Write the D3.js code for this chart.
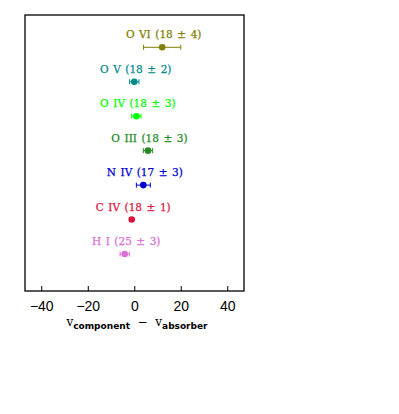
<!DOCTYPE html>
<html>
<head>
<meta charset="utf-8">
<script src="https://cdn.jsdelivr.net/npm/d3@7.9.0/dist/d3.min.js"></script>
<style>
  body { margin: 0; background: #fff; }
  svg { display: block; }
</style>
</head>
<body>
<div id="chart"></div>
<script>
// species, top to bottom
const ions = ['O VI', 'O V', 'O IV', 'O III', 'N IV', 'C IV', 'H I'];
const dv = [12, 0, 0.9, 5.9, 3.9, -1.1, -4.1];        // v_component - v_absorber
const dvErr = [8, 2, 2, 2, 3, 0.5, 2];
const logN = ['18 ± 4', '18 ± 2', '18 ± 3', '18 ± 3', '17 ± 3', '18 ± 1', '25 ± 3'];
const ionColors = ['#808000', '#008b8b', '#00ff00', '#228b22', '#0000cd', '#dc143c', '#da70d6'];
const xTicks = [-40, -20, 0, 20, 40];

const width = 399;
const height = 414;
const frame = { left: 25, right: 244, top: 15, bottom: 291 };

const svg = d3
  .select('#chart')
  .append('svg')
  .attr('width', width)
  .attr('height', height);

const xScale = d3.scaleLinear().domain([-47, 47.2]).range([frame.left, frame.right]);
const yScale = d3.scalePoint().domain(ions).range([47.3, 254]);

// frame
svg
  .append('rect')
  .attr('x', frame.left)
  .attr('y', frame.top)
  .attr('width', frame.right - frame.left)
  .attr('height', frame.bottom - frame.top)
  .attr('fill', 'none')
  .attr('stroke', '#000')
  .attr('stroke-width', 1.3);

// bottom axis, ticks pointing inward
const xAxis = d3.axisBottom(xScale).tickValues(xTicks).tickSize(-5).tickPadding(10)
  .tickFormat((d) => (d < 0 ? '\u2212' + Math.abs(d) : d));

svg
  .append('g')
  .attr('class', 'x-axis')
  .attr('transform', `translate(0, ${frame.bottom})`)
  .call(xAxis)
  .call((g) => g.select('.domain').remove())
  .call((g) => g.selectAll('line').attr('stroke', '#000').attr('stroke-width', 1))
  .call((g) =>
    g.selectAll('text')
      .attr('font-family', 'Liberation Sans, Arial, sans-serif')
      .attr('font-size', 14)
      .attr('fill', '#000')
  );

// axis title
const title = svg
  .append('text')
  .attr('x', 137)
  .attr('y', 326)
  .attr('text-anchor', 'middle')
  .attr('font-family', 'DejaVu Serif, serif')
  .attr('font-size', 12)
  .attr('fill', '#000')
  .attr('xml:space', 'preserve');
title.append('tspan').text('v');
title.append('tspan').attr('dy', 3).attr('font-size', 9).attr('font-weight', 'bold')
  .attr('font-family', 'DejaVu Sans, sans-serif').text('component');
title.append('tspan').attr('dy', -3).text('  \u2212  v');
title.append('tspan').attr('dy', 3).attr('font-size', 9).attr('font-weight', 'bold')
  .attr('font-family', 'DejaVu Sans, sans-serif').text('absorber');

const rows = svg
  .append('g')
  .attr('class', 'points')
  .selectAll('g')
  .data(ions.map((ion, i) => ({ ion, v: dv[i], err: dvErr[i], n: logN[i], color: ionColors[i] })))
  .join('g')
  .attr('transform', (d) => `translate(0, ${yScale(d.ion)})`);

// error bars
rows
  .append('line')
  .attr('x1', (d) => xScale(d.v - d.err))
  .attr('x2', (d) => xScale(d.v + d.err))
  .attr('stroke', (d) => d.color)
  .attr('stroke-width', 1);

rows
  .selectAll('line.cap')
  .data((d) => [d.v - d.err, d.v + d.err].map((x) => ({ x, color: d.color })))
  .join('line')
  .attr('class', 'cap')
  .attr('x1', (d) => xScale(d.x))
  .attr('x2', (d) => xScale(d.x))
  .attr('y1', -2.5)
  .attr('y2', 2.5)
  .attr('stroke', (d) => d.color)
  .attr('stroke-width', 1);

rows
  .append('circle')
  .attr('cx', (d) => xScale(d.v))
  .attr('r', 3.3)
  .attr('fill', (d) => d.color);

rows
  .append('text')
  .attr('x', (d) => xScale(d.v) + 1.5)
  .attr('y', -9)
  .attr('text-anchor', 'middle')
  .attr('font-family', 'DejaVu Serif, serif')
  .attr('font-size', 10.5)
  .attr('word-spacing', 1.2)
  .attr('fill', (d) => d.color)
  .attr('stroke', (d) => d.color)
  .attr('stroke-width', 0.25)
  .text((d) => `${d.ion} (${d.n})`);
</script>
</body>
</html>
